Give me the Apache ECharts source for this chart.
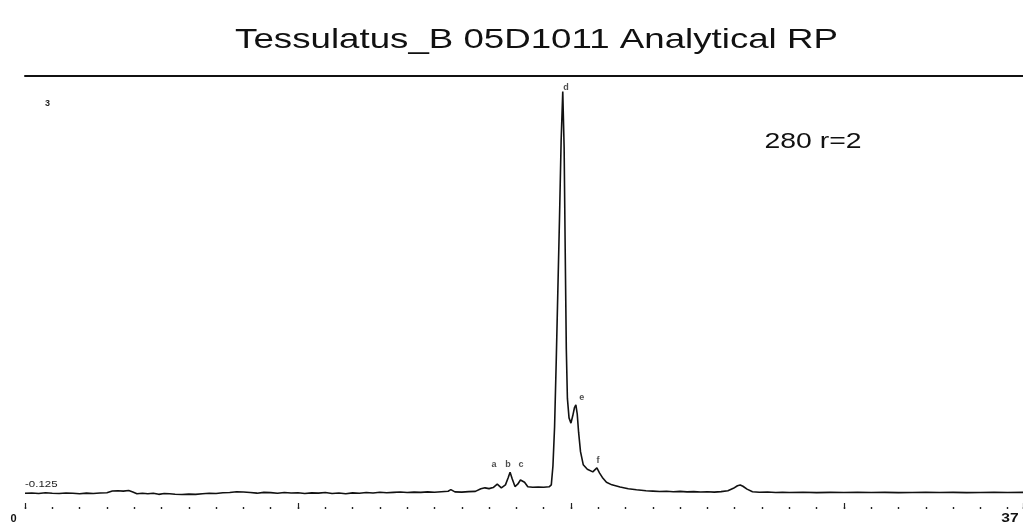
<!DOCTYPE html>
<html>
<head>
<meta charset="utf-8">
<script src="https://cdn.jsdelivr.net/npm/echarts/dist/echarts.min.js"></script>
<style>
  html, body { margin: 0; padding: 0; background: #fff; }
  #chart { width: 1023px; height: 531px; }
</style>
</head>
<body>
<div id="chart"></div>
<script>
// Retention time (min)
var timeMin = [0, 0.25, 0.5, 0.75, 1.0, 1.25, 1.5, 1.75, 2.0, 2.25, 2.5, 2.75, 3.0, 3.2, 3.4, 3.6, 3.8, 3.95,
  4.1, 4.3, 4.5, 4.7, 4.9, 5.1, 5.3, 5.5, 5.75, 6.0, 6.25, 6.5, 6.75, 7.0, 7.25, 7.5, 7.75, 8.0, 8.25, 8.5,
  8.75, 9.0, 9.25, 9.5, 9.75, 10.0, 10.25, 10.5, 10.75, 11.0, 11.25, 11.5, 11.75, 12.0, 12.25, 12.5, 12.75,
  13.0, 13.25, 13.5, 13.75, 14.0, 14.25, 14.5, 14.75, 15.0, 15.25, 15.5, 15.6, 15.75, 16.0, 16.25, 16.5,
  16.7, 16.85, 17.0, 17.15, 17.3, 17.45, 17.6, 17.7, 17.77, 17.85, 17.95, 18.05, 18.15, 18.22, 18.3, 18.42,
  18.6, 18.8, 19.0, 19.2, 19.28, 19.34, 19.4, 19.46, 19.52, 19.58, 19.64, 19.7, 19.75, 19.79, 19.83, 19.87,
  19.93, 20.0, 20.07, 20.13, 20.18, 20.23, 20.28, 20.35, 20.45, 20.6, 20.8, 20.95, 21.05, 21.15, 21.3, 21.5,
  21.8, 22.1, 22.4, 22.75, 23.0, 23.25, 23.5, 23.75, 24.0, 24.25, 24.5, 24.75, 25.0, 25.25, 25.5, 25.75,
  25.95, 26.1, 26.2, 26.3, 26.45, 26.65, 26.9, 27.2, 27.5, 27.75, 28.0, 28.5, 29.0, 29.5, 30.0, 30.5,
  31.0, 31.5, 32.0, 32.5, 33.0, 33.5, 34.0, 34.5, 35.0, 35.5, 36.0, 36.56];

// Absorbance (AU)
var absorbance = [-0.110, -0.108, -0.112, -0.106, -0.110, -0.112, -0.108, -0.110, -0.113, -0.109, -0.111, -0.108, -0.106, -0.092, -0.090, -0.093, -0.089, -0.100,
  -0.113, -0.110, -0.114, -0.109, -0.118, -0.111, -0.114, -0.117, -0.119, -0.116, -0.118, -0.113, -0.110, -0.112, -0.106, -0.104, -0.098, -0.100, -0.104, -0.109,
  -0.103, -0.105, -0.110, -0.104, -0.108, -0.106, -0.111, -0.107, -0.109, -0.104, -0.112, -0.108, -0.113, -0.107, -0.110, -0.104, -0.108,
  -0.102, -0.106, -0.103, -0.100, -0.104, -0.101, -0.103, -0.099, -0.102, -0.098, -0.094, -0.082, -0.099, -0.101, -0.097, -0.095,
  -0.075, -0.068, -0.074, -0.066, -0.040, -0.068, -0.045, 0.010, 0.052, 0.000, -0.058, -0.040, -0.008, 0.002, -0.025, -0.060,
  -0.064, -0.061, -0.063, -0.060, -0.045, 0.10, 0.40, 0.90, 1.45, 2.00, 2.60, 2.98, 2.55, 1.75, 1.00, 0.62,
  0.47, 0.43, 0.49, 0.55, 0.57, 0.50, 0.36, 0.21, 0.11, 0.075, 0.055, 0.085, 0.045, 0.012, -0.025, -0.045,
  -0.062, -0.075, -0.083, -0.090, -0.093, -0.096, -0.094, -0.098, -0.095, -0.099, -0.097, -0.100, -0.098, -0.101, -0.097, -0.090,
  -0.072, -0.052, -0.046, -0.056, -0.078, -0.098, -0.102, -0.100, -0.104, -0.103, -0.104, -0.102, -0.105, -0.103, -0.104, -0.102,
  -0.104, -0.103, -0.105, -0.104, -0.102, -0.104, -0.103, -0.105, -0.104, -0.103, -0.104, -0.103];

// Peak annotations
var peakNames = ['a', 'b', 'c', 'd', 'e', 'f'];
var peakLabelTime = [17.18, 17.69, 18.17, 19.82, 20.40, 20.99];
var peakLabelHeight = [0.108, 0.108, 0.108, 3.015, 0.623, 0.146];

// Axis range (visible window) / annotation texts
var xMin = 0, xMax = 36.56;
var yMin = -0.2, yMax = 3.1;
var titleText = 'Tessulatus_B 05D1011 Analytical RP';
var noteText = '280 r=2';
var yTopText = '3';
var yBottomText = '-0.125';
var xStartText = '0';
var xEndText = '37';

var chart = echarts.init(document.getElementById('chart'), null, { renderer: 'canvas' });
var FONT = "'Liberation Sans', Arial, sans-serif";

var signal = timeMin.map(function (t, i) { return [t, absorbance[i]]; });
var labels = peakNames.map(function (n, i) { return { value: [peakLabelTime[i], peakLabelHeight[i]], name: n }; });

function xAxisBase(extra) {
  return Object.assign({
    show: true, type: 'value', min: xMin, max: xMax,
    axisLabel: { show: false }, splitLine: { show: false }
  }, extra);
}

chart.setOption({
  animation: false,
  backgroundColor: '#ffffff',
  grid: { left: 25, right: 0, top: 76, height: 429, containLabel: false },
  xAxis: [
    xAxisBase({
      position: 'bottom', interval: 1, offset: 2,
      axisLine: { show: false, onZero: false },
      axisTick: { show: true, length: 2, lineStyle: { color: '#222', width: 1.4 } }
    }),
    xAxisBase({
      position: 'bottom', interval: 10, offset: -2,
      axisLine: { show: false, onZero: false },
      axisTick: { show: true, length: 6, lineStyle: { color: '#222', width: 1.2 } }
    }),
    xAxisBase({
      position: 'top', interval: 10,
      axisLine: { show: true, onZero: false, lineStyle: { color: '#111', width: 2 } },
      axisTick: { show: false }
    })
  ],
  yAxis: {
    type: 'value', min: yMin, max: yMax, show: false
  },
  series: [
    {
      type: 'line', xAxisIndex: 0, data: signal, showSymbol: false, symbol: 'none',
      lineStyle: { color: '#111', width: 1.6 }, smooth: false
    },
    {
      type: 'scatter', xAxisIndex: 0, data: labels, symbolSize: 0.1,
      label: {
        show: true, position: 'inside', formatter: '{b}',
        fontFamily: FONT, fontSize: 9, fontWeight: 'bold', color: '#222'
      }
    }
  ],
  graphic: [
    { type: 'text', x: 536.5, y: 40, scaleX: 1.31, style: { text: titleText, font: '28px ' + FONT, fill: '#111', textAlign: 'center', textVerticalAlign: 'middle' } },
    { type: 'text', x: 813, y: 142, scaleX: 1.29, style: { text: noteText, font: '22px ' + FONT, fill: '#111', textAlign: 'center', textVerticalAlign: 'middle' } },
    { type: 'text', x: 47.5, y: 104, style: { text: yTopText, font: 'bold 9px ' + FONT, fill: '#222', textAlign: 'center', textVerticalAlign: 'middle' } },
    { type: 'text', x: 25, y: 485, scaleX: 1.35, style: { text: yBottomText, font: '8.5px ' + FONT, fill: '#222', textAlign: 'left', textVerticalAlign: 'middle' } },
    { type: 'text', x: 13.5, y: 518.5, style: { text: xStartText, font: 'bold 11px ' + FONT, fill: '#111', textAlign: 'center', textVerticalAlign: 'middle' } },
    { type: 'text', x: 1010, y: 519, scaleX: 1.3, style: { text: xEndText, font: 'bold 12px ' + FONT, fill: '#111', textAlign: 'center', textVerticalAlign: 'middle' } }
  ]
});
</script>
</body>
</html>
